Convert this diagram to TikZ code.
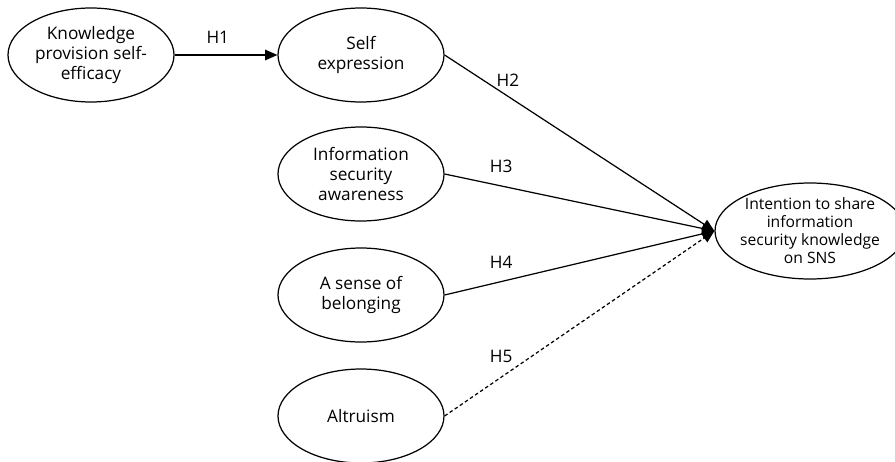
\documentclass[tikz,border=0pt]{standalone}
\usepackage{fontspec}
\setmainfont{Open Sans}
\usepackage{tikz}
\usetikzlibrary{positioning, arrows.meta, shapes.geometric}

\begin{document}
\begin{tikzpicture}[
	construct/.style={ellipse, draw, line width=0.7pt, minimum width=3.32cm, minimum height=1.88cm, inner sep=0pt, align=center, font=\fontsize{9.8}{11.4}\selectfont},
	outcome/.style={construct, minimum width=3.8cm, minimum height=1.92cm, inner sep=-6pt, font=\fontsize{8.9}{10.2}\selectfont},
	arrow/.style={-{Triangle[length=7pt, width=6pt]}, line width=0.7pt},
	weakarrow/.style={arrow, dash pattern=on 2pt off 1.5pt},
	hyp/.style={font=\fontsize{9.8}{11}\selectfont, inner sep=1pt}
	]
	\useasboundingbox (0,0) rectangle (17.9,-9.24);
	% Nodes
	\node (know) [construct] at (1.82,-1.10) {Knowledge\\provision self-\\efficacy};
	\node (self) [construct] at (7.22,-1.10) {Self\\expression};
	\node (info) [construct] at (7.22,-3.48) {Information\\security\\awareness};
	\node (belong) [construct] at (7.22,-5.90) {A sense of\\belonging};
	\node (altru) [construct] at (7.22,-8.32) {Altruism};
	\node (intent) [outcome] at (16.20,-4.62) {Intention to share\\information\\security knowledge\\on SNS};

	% Arrows
	\draw [arrow] (know) -- node[hyp, pos=0.42, above=5pt] {H1} (self);
	\draw [arrow] (self.east) -- node[hyp, pos=0.21, above right=2pt and -4pt] {H2} (intent.west);
	\draw [arrow] (info.east) -- node[hyp, pos=0.21, above=6pt] {H3} (intent.west);
	\draw [arrow] (belong.east) -- node[hyp, pos=0.21, above=6pt] {H4} (intent.west);
	\draw [weakarrow] (altru.east) -- node[hyp, pos=0.21, above=7pt] {H5} (intent.west);
\end{tikzpicture}
\end{document}
